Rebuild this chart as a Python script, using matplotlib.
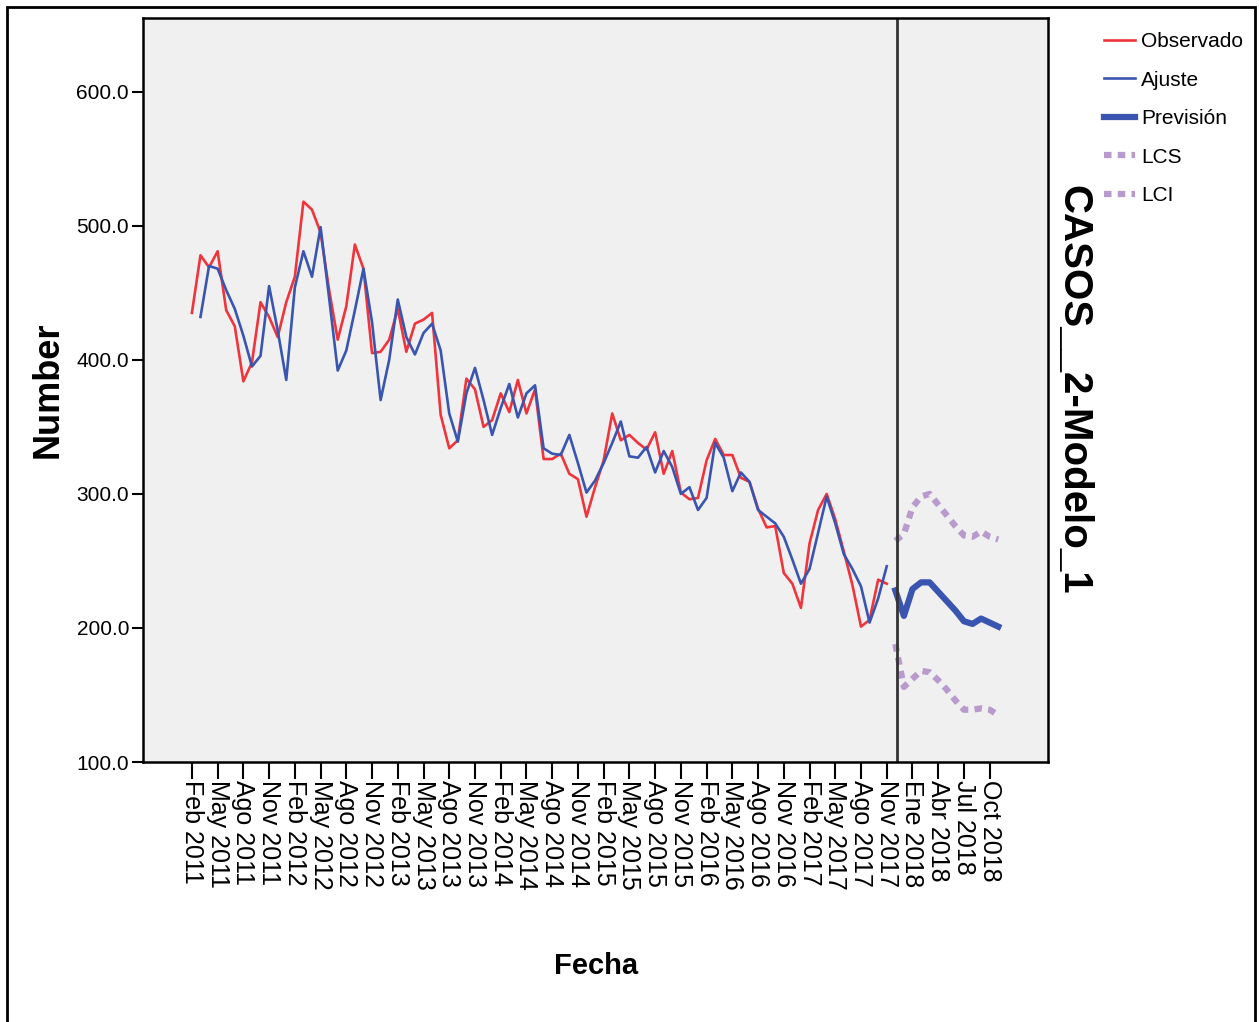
import matplotlib
matplotlib.use("Agg")
import matplotlib.pyplot as plt
from matplotlib.patches import Rectangle

# Serie mensual observada (indice 0 = Feb 2011)
observado = [435, 478, 469, 481, 437, 425, 384, 398, 443, 432,
             417, 443, 462, 518, 512, 495, 452, 415, 440, 486,
             468, 405, 406, 415, 438, 406, 427, 430, 435, 359,
             334, 340, 386, 378, 350, 355, 375, 361, 385, 360,
             378, 326, 326, 330, 315, 311, 283, 305, 325, 360,
             340, 344, 338, 333, 346, 315, 332, 301, 296, 297,
             325, 341, 329, 329, 312, 309, 289, 275, 276, 241,
             233, 215, 263, 288, 300, 281, 257, 232, 201, 206,
             236, 233]

# Ajuste del modelo (empieza un mes despues)
ajuste = [432, 470, 468, 452, 438, 418, 395, 403, 455,
          422, 385, 454, 481, 462, 499, 446, 392, 407, 437,
          468, 428, 370, 400, 445, 417, 404, 420, 427, 407,
          360, 339, 375, 394, 370, 344, 364, 382, 357, 375,
          381, 334, 330, 329, 344, 323, 301, 310, 323, 338,
          354, 328, 327, 335, 316, 332, 320, 300, 305, 288,
          297, 338, 327, 302, 316, 309, 288, 283, 278, 268,
          251, 233, 244, 271, 298, 278, 255, 244, 231, 204,
          222, 246]

# Prevision y limites de confianza
prevision = [228, 209, 229, 234, 234, 227, 220, 213, 205, 203, 207, 204, 201]
lcs = [265, 270, 290, 298, 300, 292, 284, 276, 269, 268, 272, 268, 266]
lci = [188, 156, 162, 168, 167, 161, 154, 146, 139, 139, 140, 139, 135]

tick_labels = []
for year in range(2011, 2018):
    for m in ["Feb", "May", "Ago", "Nov"]:
        tick_labels.append(f"{m} {year}")
tick_labels += ["Ene 2018", "Abr 2018", "Jul 2018", "Oct 2018"]
tick_pos = list(range(0, 82, 3)) + [84, 87, 90, 93]

inicio_prevision = len(observado)

x_obs = list(range(len(observado)))
x_aj = list(range(1, len(ajuste) + 1))
x_prev = list(range(inicio_prevision, inicio_prevision + len(prevision)))

RED = "#F0343C"
BLUE = "#3A55B0"
PURPLE = "#B89BCC"
SANS = ["Liberation Sans", "DejaVu Sans"]

fig = plt.figure(figsize=(12.59, 10.22), dpi=100)
ax = fig.add_axes([143 / 1259, 1 - 762 / 1022, (1048 - 143) / 1259, (762 - 18) / 1022])
ax.set_facecolor("#F0F0F0")

ax.plot(x_obs, observado, color=RED, lw=1.9, label="Observado")
ax.plot(x_aj, ajuste, color=BLUE, lw=1.9, label="Ajuste")
ax.plot(x_prev, prevision, color=BLUE, lw=4.5, label="Previsión", solid_joinstyle="round")
ax.plot(x_prev, lcs, color=PURPLE, lw=4.5, ls=(0, (1.2, 1.0)), label="LCS")
ax.plot(x_prev, lci, color=PURPLE, lw=4.5, ls=(0, (1.2, 1.0)), label="LCI")
ax.axvline(inicio_prevision + 0.2, color="#333333", lw=2)

ax.set_xlim(-5.7, 99.8)
ax.set_ylim(100, 655)
ax.set_yticks([100, 200, 300, 400, 500, 600])
ax.set_yticklabels([f"{v:.1f}" for v in [100, 200, 300, 400, 500, 600]],
                   fontsize=15, family=SANS)
ax.set_xticks(tick_pos)
ax.set_xticklabels(tick_labels, rotation=270, ha="center", va="top",
                   fontsize=18, family=SANS)
ax.tick_params(axis="x", length=12, width=1.5, pad=1)
ax.tick_params(axis="y", length=8, width=1.5, pad=2)
for s in ax.spines.values():
    s.set_linewidth(1.8)

fig.text(48 / 1259, 1 - 390 / 1022, "Number", rotation=90, ha="center", va="center",
         fontsize=26, fontweight="bold", family=SANS)
fig.text(596 / 1259, 1 - 966 / 1022, "Fecha", ha="center", va="center",
         fontsize=21, fontweight="bold", family=SANS)
fig.text(1073 / 1259, 1 - 390 / 1022, "CASOS__2-Modelo_1", rotation=270,
         ha="center", va="center", fontsize=29, fontweight="bold", family=SANS)

fig.legend(loc="upper left", bbox_to_anchor=(1094 / 1259, 1 - 22 / 1022),
           frameon=False, prop={"family": SANS, "size": 15},
           handlelength=1.45, handletextpad=0.3, labelspacing=0.93, borderpad=0)

# marco exterior
fig.patches.append(Rectangle((7 / 1259, -0.01), (1255 - 7) / 1259, 1.01 - 7 / 1022,
                             transform=fig.transFigure, fill=False,
                             edgecolor="black", lw=2))

fig.savefig("out.png", dpi=100, facecolor="white")
